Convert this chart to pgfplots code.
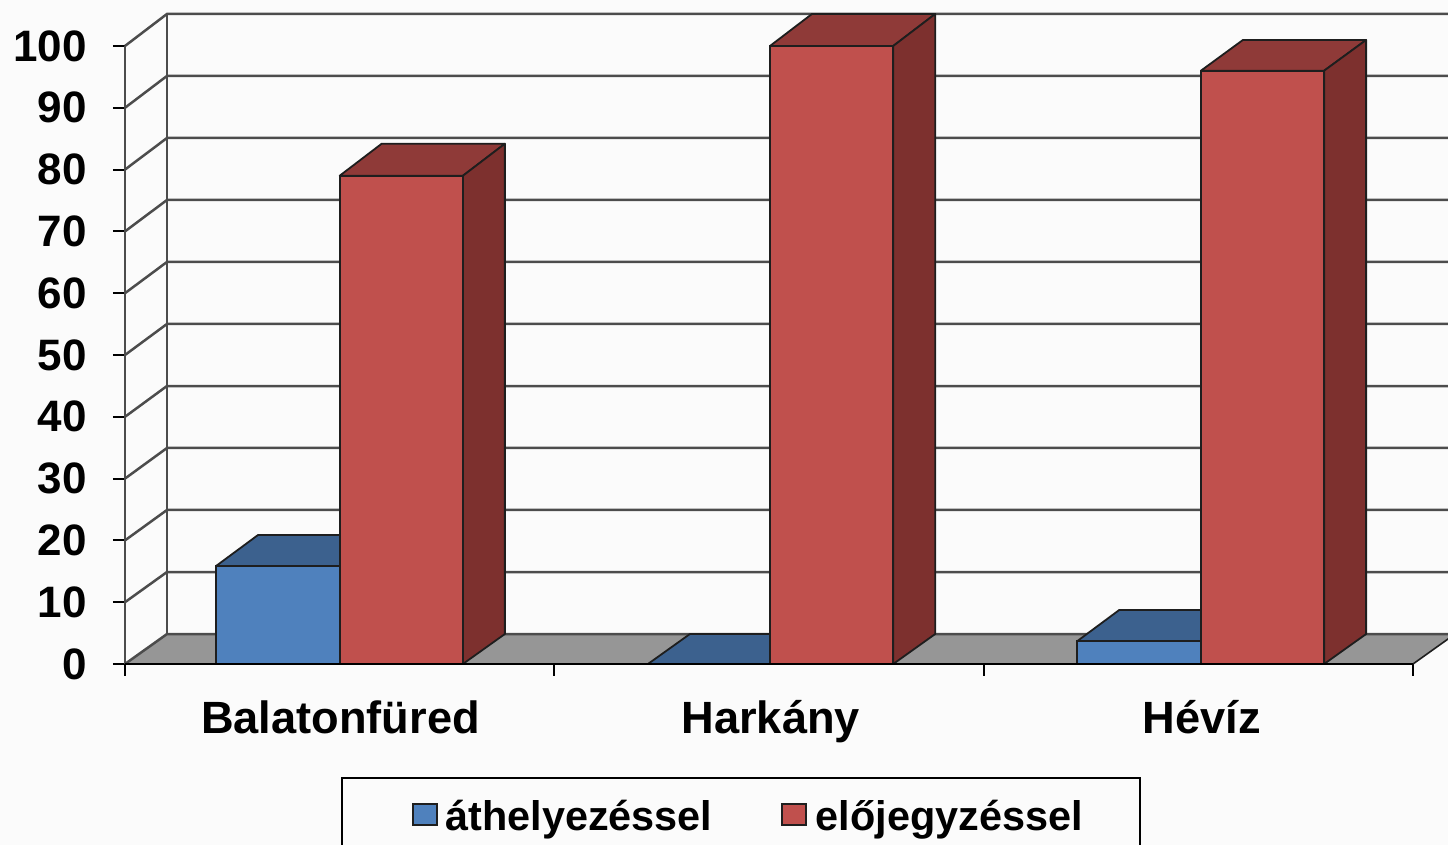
\documentclass[border=0pt]{standalone}
\usepackage{fontspec}
\setmainfont{Liberation Sans}
\usepackage{pgfplots}
\pgfplotsset{compat=1.18}
\definecolor{bg}{HTML}{FBFBFB}
\definecolor{bluef}{HTML}{4F81BD}
\definecolor{bluet}{HTML}{3C618E}
\definecolor{redf}{HTML}{C0504D}
\definecolor{redt}{HTML}{8F3A38}
\definecolor{reds}{HTML}{7D302E}
\definecolor{floorc}{HTML}{969696}
\definecolor{edge}{HTML}{1E1E1E}
\begin{document}
\begin{tikzpicture}[x=1pt,y=1pt]
\path[use as bounding box] (0,0) rectangle (724,422.5);
\clip (0,0) rectangle (724,422.5);
\fill[bg] (0,0) rectangle (724,422.5);
\begin{axis}[
  at={(62.5pt,90.5pt)}, anchor=origin,
  scale only axis, width=661.5pt, height=332pt,
  xmin=0, xmax=3.0815, ymin=0, ymax=107.44,
  clip=false,
  axis lines=left, axis line style={draw=none,-},
  tick align=outside,
  tick style={black,line width=1pt},
  major tick length=6pt,
  xtick={0,1,2,3}, xticklabels={,,,},
  extra x ticks={0.502,1.504,2.508},
  extra x tick labels={Balatonfüred,Harkány,Hévíz},
  extra x tick style={major tick length=0pt,
    xticklabel style={font=\bfseries\fontsize{22.6}{24}\selectfont,yshift=-18.5pt,text height=16pt,text depth=5pt,inner sep=0pt}},
  ytick={0,10,...,100},
  yticklabel style={font=\bfseries\fontsize{22}{24}\selectfont,inner sep=0pt,xshift=-13pt},
  /pgf/number format/assume math mode=true,
  legend columns=2,
  legend style={at={(0.1633,-0.1702)},anchor=north west,draw=black,line width=1pt,fill=none,
    inner xsep=26.5pt,inner ysep=9pt,
    font=\bfseries\fontsize{20.7}{24}\selectfont,
    /tikz/every even column/.style={column sep=23.5pt}},
  legend image code/.code={\path[draw=bg,line width=0.2pt] (-9pt,0) -- (14pt,0);\draw[#1,line width=1pt] (0pt,-4.2pt) rectangle (12pt,6.3pt);},
]
\addlegendimage{draw=edge,fill=bluef}\addlegendentry{áthelyezéssel}
\addlegendimage{legend image code/.code={\path[draw=bg,line width=0.2pt] (-9pt,0) -- (15pt,0);\draw[draw=edge,fill=redf,line width=1pt] (0pt,-4.2pt) rectangle (12pt,6.3pt);}}\addlegendentry{előjegyzéssel}

% floor
\addplot[draw=none,fill=floorc,forget plot] coordinates {(0,0)(0.0978,4.85)(3.0978,4.85)(3,0)} -- cycle;
% walls and grid
\pgfplotsset{gl/.style={draw=black!70,line width=1.25pt,forget plot}}
\addplot[gl] coordinates {(0,0)(0.0978,4.85)(3.2,4.85)};
\addplot[gl] coordinates {(0,10)(0.0978,14.88)(3.2,14.88)};
\addplot[gl] coordinates {(0,20)(0.0978,24.92)(3.2,24.92)};
\addplot[gl] coordinates {(0,30)(0.0978,34.95)(3.2,34.95)};
\addplot[gl] coordinates {(0,40)(0.0978,44.98)(3.2,44.98)};
\addplot[gl] coordinates {(0,50)(0.0978,55.02)(3.2,55.02)};
\addplot[gl] coordinates {(0,60)(0.0978,65.05)(3.2,65.05)};
\addplot[gl] coordinates {(0,70)(0.0978,75.08)(3.2,75.08)};
\addplot[gl] coordinates {(0,80)(0.0978,85.11)(3.2,85.11)};
\addplot[gl] coordinates {(0,90)(0.0978,95.15)(3.2,95.15)};
\addplot[gl] coordinates {(0,100)(0.0978,105.18)(3.2,105.18)};
\addplot[gl] coordinates {(0.0978,4.85)(0.0978,105.18)};
\addplot[gl] coordinates {(0,0)(0,100)};
\addplot[draw=edge,line width=0.8pt,forget plot] coordinates {(3,0)(3.0978,4.85)};
% x axis line
\addplot[draw=black,line width=1pt,forget plot] coordinates {(0,0)(3,0)};

\pgfplotsset{face/.style={draw=edge,line width=0.9pt,line join=round,forget plot}}
% blue tops
\addplot[face,fill=bluet] coordinates {(0.212,15.85)(0.3098,20.87)(0.5978,20.87)(0.5,15.85)} -- cycle;
\addplot[face,fill=bluet] coordinates {(1.218,0)(1.3158,4.85)(1.6001,4.85)(1.5023,0)} -- cycle;
\addplot[face,fill=bluet] coordinates {(2.218,3.7)(2.3158,8.74)(2.6038,8.74)(2.506,3.7)} -- cycle;
% blue fronts
\addplot[ybar,bar width=61.8pt,bar shift=0pt,draw=edge,line width=0.9pt,fill=bluef,forget plot] coordinates {(0.356,15.85)(1.36,0)(2.362,3.7)};
% red tops and sides
\addplot[face,fill=redt] coordinates {(0.5,79)(0.5978,84.18)(0.8848,84.18)(0.787,79)} -- cycle;
\addplot[face,fill=reds] coordinates {(0.787,0)(0.8848,4.85)(0.8848,84.18)(0.787,79)} -- cycle;
\addplot[face,fill=redt] coordinates {(1.5023,100)(1.6001,105.18)(1.8871,105.18)(1.7893,100)} -- cycle;
\addplot[face,fill=reds] coordinates {(1.7893,0)(1.8871,4.85)(1.8871,105.18)(1.7893,100)} -- cycle;
\addplot[face,fill=redt] coordinates {(2.506,96)(2.6038,100.97)(2.8908,100.97)(2.793,96)} -- cycle;
\addplot[face,fill=reds] coordinates {(2.793,0)(2.8908,4.85)(2.8908,100.97)(2.793,96)} -- cycle;
% red fronts
\addplot[ybar,bar width=61.6pt,bar shift=0pt,draw=edge,line width=0.9pt,fill=redf,forget plot] coordinates {(0.6435,79)(1.6458,100)(2.6495,96)};
\addplot[draw=black,line width=1pt,forget plot] coordinates {(0,0)(3,0)};
\end{axis}
\end{tikzpicture}
\end{document}
